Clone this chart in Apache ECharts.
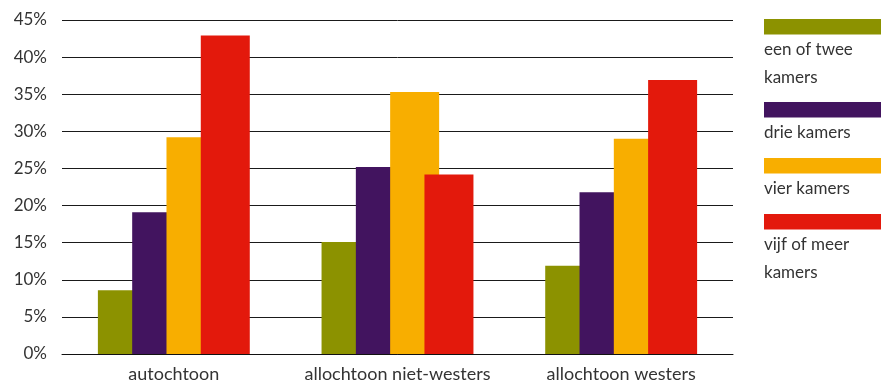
<!DOCTYPE html>
<html>
<head>
<meta charset="utf-8">
<script src="https://cdn.jsdelivr.net/npm/echarts@6/dist/echarts.min.js"></script>
<style>
  html, body { margin: 0; padding: 0; background: #fff; }
  #chart { width: 881px; height: 383px; }
</style>
</head>
<body>
<div id="chart"></div>
<script>
const categories = ['autochtoon', 'allochtoon niet-westers', 'allochtoon westers']
const seriesNames = ['een of twee kamers', 'drie kamers', 'vier kamers', 'vijf of meer kamers']
// legend text as broken in the picture
const legendLines = [['een of twee', 'kamers'], ['drie kamers'], ['vier kamers'], ['vijf of meer', 'kamers']]
const eenOfTwee = [8.6, 15.1, 11.9]
const drie = [19.1, 25.2, 21.8]
const vier = [29.2, 35.3, 29.0]
const vijfOfMeer = [42.9, 24.2, 36.9]
const colors = ['#8c9200', '#42145f', '#f8ae00', '#e3190c']

const fontFamily = 'Lato, "Open Sans", sans-serif'
const values = [eenOfTwee, drie, vier, vijfOfMeer]

// legend: colour block with label underneath
const legendTops = [19, 102, 158, 214]
const graphic = []
seriesNames.forEach((name, i) => {
  graphic.push({
    type: 'rect',
    left: 764,
    top: legendTops[i],
    shape: { width: 117, height: 15.5 },
    style: { fill: colors[i] }
  })
  legendLines[i].forEach((line, j) => {
    graphic.push({
      type: 'text',
      left: 764,
      top: legendTops[i] + 22 + j * 28,
      style: { text: line, fill: '#333', font: '17px ' + fontFamily }
    })
  })
})

const chart = echarts.init(document.getElementById('chart'))
chart.setOption({
  animation: false,
  textStyle: { fontFamily: fontFamily },
  grid: { left: 62, right: 148, top: 20, bottom: 29, containLabel: false },
  xAxis: {
    type: 'category',
    data: categories,
    axisLine: { lineStyle: { color: '#111', width: 1 } },
    axisTick: { show: false },
    axisLabel: { color: '#333', fontSize: 18, margin: 11, interval: 0, hideOverlap: false }
  },
  yAxis: {
    type: 'value',
    min: 0,
    max: 45,
    interval: 5,
    axisLine: { show: false },
    axisTick: { show: false },
    axisLabel: { color: '#333', fontSize: 17, margin: 15, formatter: '{value}%' },
    splitLine: { lineStyle: { color: '#1a1a1a', width: 1 } }
  },
  graphic: graphic,
  series: seriesNames.map((name, i) => ({
    name: name,
    type: 'bar',
    data: values[i],
    barWidth: 49,
    barGap: '-30%',
    itemStyle: { color: colors[i] }
  }))
})
</script>
</body>
</html>
